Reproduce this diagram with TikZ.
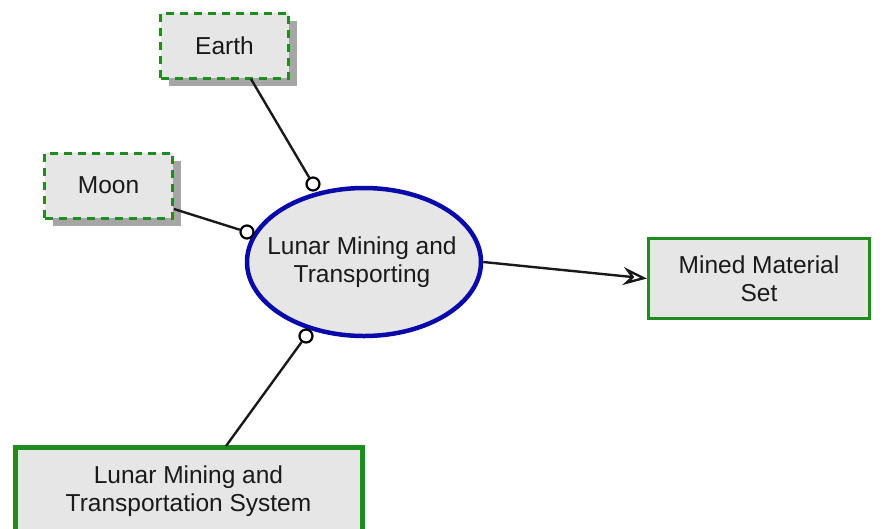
\documentclass[tikz,border=0pt]{standalone}
\usepackage{fontspec}
\setmainfont{Liberation Sans}
\usetikzlibrary{arrows.meta,shapes.geometric,calc}
\definecolor{boxfill}{HTML}{E6E6E6}
\definecolor{boxgreen}{HTML}{1E8C1E}
\definecolor{ellblue}{HTML}{0A0AAA}
\definecolor{shadowgray}{HTML}{A6A6A6}
\definecolor{txt}{HTML}{1A1A1A}
\tikzset{
  lbl/.style={font=\fontsize{24.5}{28}\selectfont, text=txt, align=center},
  extbox/.style={lbl, draw=boxgreen, fill=boxfill, dash pattern=on 8pt off 6pt, line width=3pt, minimum width=128pt, minimum height=65pt, inner sep=0pt},
  shadowbox/.style={fill=shadowgray, draw=none, minimum width=128pt, minimum height=65pt, inner sep=0pt},
  solidbox/.style={lbl, draw=boxgreen, fill=boxfill, inner sep=0pt},
  procell/.style={ellipse, draw=ellblue, fill=boxfill, line width=4.5pt, minimum width=234pt, minimum height=148pt, inner sep=0pt},
  port/.style={circle, draw=black, fill=white, line width=2.2pt, minimum size=13pt, inner sep=0pt},
  conn/.style={draw=black!90, line width=2.4pt},
}
\begin{document}
\begin{tikzpicture}[x=1pt,y=-1pt]
\useasboundingbox (0,0) rectangle (882,528);
% shadows
\node[shadowbox] (earthsh) at (232.5,53.5) {};
\node[shadowbox] (moonsh) at (116.5,193.5) {};
% external entities
\node[extbox] (earth) at (224.5,45.5) {Earth};
\node[extbox] (moon) at (108.5,185.5) {Moon};
% process
\node[procell] (proc) at (364,262) {};
\node[lbl] (proctext) at (362,262) {Lunar Mining and\\Transporting};
% output
\node[solidbox, line width=3pt, minimum width=221pt, minimum height=80pt] (mms) at (759,278.5) {Mined Material\\Set};
% system
\node[solidbox, line width=5pt, minimum width=347pt, minimum height=88pt] (lmts) at (188.5,491) {Lunar Mining and\\Transportation System};
% ports
\node[port] (pe) at (313,184) {};
\node[port] (pm) at (247,232) {};
\node[port] (pl) at (306,336) {};
% anchor coordinates
\coordinate (ea) at (251,79);
\coordinate (ma) at (174,209);
\coordinate (la) at (226,446);
\draw[conn] (ea) -- (pe);
\draw[conn] (ma) -- (pm);
\draw[conn] (la) -- (pl);
\draw[conn, -{Stealth[open, length=24pt, width=18pt, inset=8pt, fill=white]}] (proc.east) -- (mms.west);
\end{tikzpicture}
\end{document}
